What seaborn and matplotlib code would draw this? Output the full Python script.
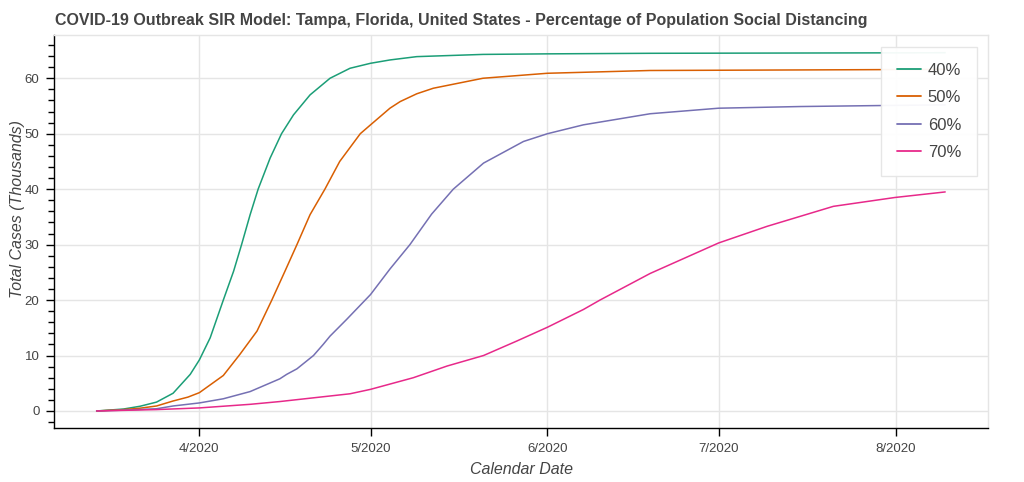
import numpy as np
import pandas as pd
import matplotlib
matplotlib.use("Agg")
import matplotlib.pyplot as plt
import matplotlib.dates as mdates
from matplotlib.ticker import MultipleLocator, FuncFormatter
import seaborn as sns

# ---- data (days since 2020-04-01, total cases in thousands) ----
series_names = ["40%", "50%", "60%", "70%"]

days_40 = [-18, -13.3, -10.4, -7.5, -4.6, -1.6, 0, 1.9, 4.2, 6.0, 7.4, 8.9, 10.3, 12.4, 14.4, 16.5,
           19.4, 22.9, 26.4, 30, 33.4, 38.1, 49.7, 61, 79, 130.7]
vals_40 = [0.0, 0.35, 0.85, 1.6, 3.2, 6.6, 9.2, 13.2, 20, 25.2, 30, 35.4, 40, 45.6, 50, 53.4,
           57, 60, 61.8, 62.7, 63.3, 63.9, 64.3, 64.4, 64.5, 64.6]

days_50 = [-18, -13.3, -10.4, -7.5, -4.6, -2, 0, 4.2, 7.1, 10.1, 12.7, 15.0, 17.1, 19.4, 22.0, 24.6,
           28.2, 30, 33.4, 35.2, 38.1, 41, 49.7, 61, 79, 105.3, 130.7]
vals_50 = [0.0, 0.25, 0.5, 0.9, 1.8, 2.5, 3.3, 6.4, 10.2, 14.4, 20, 25.2, 30, 35.4, 40, 45,
           50, 51.6, 54.6, 55.8, 57.2, 58.2, 60, 60.9, 61.4, 61.5, 61.6]

days_60 = [-18, -13.3, -7.5, -4.6, 0, 4.2, 8.9, 14.1, 15.3, 17.1, 20, 21.7, 22.9, 25.8, 30, 33.4,
           36.9, 40.7, 44.5, 49.8, 56.8, 61, 67.3, 79, 91, 105.3, 121, 130.7]
vals_60 = [0.0, 0.15, 0.4, 0.9, 1.45, 2.2, 3.5, 5.8, 6.6, 7.6, 10, 12, 13.5, 16.5, 21, 25.6,
           30, 35.5, 40, 44.7, 48.6, 50, 51.6, 53.6, 54.6, 54.9, 55.1, 55.2]

days_70 = [-18, -7.5, 0, 8.9, 14.1, 26.4, 30, 37.5, 43.4, 49.8, 55.6, 61, 67.3, 70.2, 79,
           91, 99.5, 111.1, 121.9, 130.7]
vals_70 = [0.0, 0.25, 0.55, 1.2, 1.7, 3.1, 3.9, 6.0, 8.1, 10, 12.6, 15.1, 18.3, 20, 24.8,
           30.3, 33.3, 36.9, 38.5, 39.5]

palette = ["#1b9e77", "#d95f02", "#7570b3", "#e7298a"]
base_date = pd.Timestamp("2020-04-01")

frames = []
for name, d, v in zip(series_names, [days_40, days_50, days_60, days_70],
                      [vals_40, vals_50, vals_60, vals_70]):
    frames.append(pd.DataFrame({
        "date": base_date + pd.to_timedelta(np.array(d, dtype=float), unit="D"),
        "cases": v,
        "distancing": name,
    }))
df = pd.concat(frames, ignore_index=True)

# ---- styling ----
sns.set_theme(style="white")
plt.rcParams["font.family"] = ["Liberation Sans", "DejaVu Sans"]
text_color = "#444444"
grid_color = "#e5e5e5"

fig = plt.figure(figsize=(10.24, 4.82), dpi=100)
ax = fig.add_axes([54 / 1024, 1 - 428 / 482, (988 - 54) / 1024, (428 - 35) / 482])

sns.lineplot(data=df, x="date", y="cases", hue="distancing", palette=palette,
             hue_order=series_names, estimator=None, linewidth=1.1, ax=ax)

ax.set_xlim(base_date + pd.Timedelta(days=-25.47), base_date + pd.Timedelta(days=138.2))
ax.set_ylim(-3.07, 67.8)

ax.xaxis.set_major_locator(mdates.MonthLocator())
ax.xaxis.set_major_formatter(FuncFormatter(lambda x, p: f"{mdates.num2date(x).month}/{mdates.num2date(x).year}"))
ax.yaxis.set_major_locator(MultipleLocator(10))
ax.yaxis.set_minor_locator(MultipleLocator(2))

ax.grid(True, which="major", color=grid_color, linewidth=1)
ax.set_axisbelow(True)

for side in ["top", "right"]:
    ax.spines[side].set_color(grid_color)
    ax.spines[side].set_linewidth(1)
for side in ["left", "bottom"]:
    ax.spines[side].set_color("black")
    ax.spines[side].set_linewidth(1)

ax.tick_params(axis="both", which="major", direction="out", length=6, width=1,
               color="black", labelsize=9.5, labelcolor=text_color, pad=4.5,
               left=True, bottom=True)
ax.tick_params(axis="y", which="minor", direction="out", length=4, width=1,
               color="black", left=True)

ax.set_xlabel("Calendar Date", fontsize=11.5, style="italic", color=text_color, labelpad=5.5)
ax.set_ylabel("Total Cases (Thousands)", fontsize=11.5, style="italic", color=text_color)
ax.yaxis.set_label_coords((25 - 54) / 934, (428 - 208.5) / 393)

fig.text(55 / 1024, 1 - 20 / 482,
         "COVID-19 Outbreak SIR Model: Tampa, Florida, United States - Percentage of Population Social Distancing",
         fontsize=11.5, fontweight="bold", color=text_color, ha="left", va="center")

handles, labels = ax.get_legend_handles_labels()
leg = ax.legend(handles, labels, loc="upper right", bbox_to_anchor=(977 / 1024, 1 - 47 / 482),
                bbox_transform=fig.transFigure, frameon=True, fancybox=False,
                framealpha=0.95, edgecolor=grid_color, facecolor="white",
                fontsize=12, labelcolor=text_color, handlelength=1.45, handletextpad=0.4,
                borderpad=0.95, labelspacing=0.75, borderaxespad=0)
leg.get_frame().set_linewidth(1)
for line in leg.get_lines():
    line.set_linewidth(1.3)

fig.savefig("out.png", dpi=100)
